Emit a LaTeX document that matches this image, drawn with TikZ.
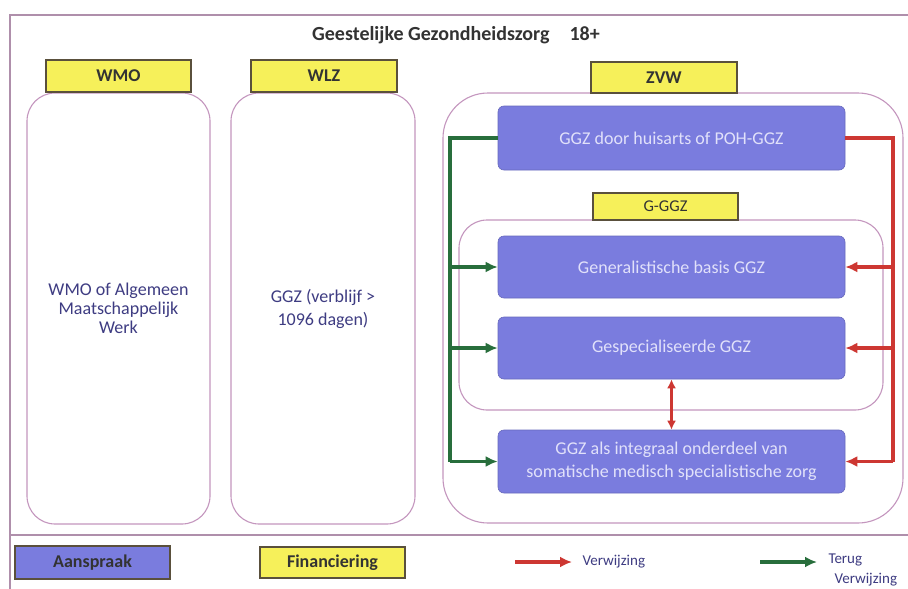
\documentclass[tikz,border=0pt]{standalone}
\usepackage{fontspec}
\setmainfont{Carlito}
\usetikzlibrary{arrows.meta}
\definecolor{boxpurple}{RGB}{122,124,222}
\definecolor{labyellow}{RGB}{246,240,90}
\definecolor{labborder}{RGB}{90,80,60}
\definecolor{framecol}{RGB}{196,150,190}
\definecolor{txtblue}{RGB}{62,60,130}
\definecolor{lighttxt}{RGB}{225,225,250}
\definecolor{redline}{RGB}{205,55,50}
\definecolor{greenline}{RGB}{40,110,60}
\begin{document}
\begin{tikzpicture}[x=1pt,y=-1pt,
  lab/.style={draw=labborder,line width=1.4pt,fill=labyellow,inner sep=0pt,font=\bfseries\fontsize{18}{20}\selectfont,text=black!80},
  cont/.style={draw=framecol,line width=1.1pt,rounded corners=28pt,fill=white},
  aan/.style={fill=boxpurple,draw=boxpurple!85!black,line width=0.6pt,rounded corners=6pt,inner sep=0pt,text=lighttxt,font=\fontsize{18}{23}\selectfont,align=center},
  red/.style={draw=redline,line width=3.4pt},
  grn/.style={draw=greenline,line width=3.4pt},
  tip/.style={-{Latex[length=12pt,width=11pt]}},
  legtxt/.style={anchor=west,font=\fontsize{15}{17}\selectfont,text=txtblue}
]
\useasboundingbox (0,0) rectangle (908,589);
\fill[white] (0,0) rectangle (908,589);
% frame
\draw[framecol!70!gray,line width=1.1pt] (10,589) -- (10,15) -- (908,15);
\draw[framecol!70!gray,line width=1.1pt] (10,535) -- (908,535);
\node[font=\bfseries\fontsize{20}{22}\selectfont,text=black!80] (title) at (456,35) {Geestelijke Gezondheidszorg\quad 18+};
% WMO
\draw[cont] (27,93) rectangle (210,524) node[pos=0.5,align=center,text=txtblue,font=\fontsize{18}{19}\selectfont] (wmotxt) {WMO of Algemeen\\Maatschappelijk\\Werk};
\node[lab,minimum width=145pt,minimum height=32pt] (wmo) at (118.5,76) {WMO};
% WLZ
\draw[cont] (231,93) rectangle (415,524) node[pos=0.5,align=center,text=txtblue,font=\fontsize{18}{23}\selectfont] (wlztxt) {GGZ (verblijf >\\1096 dagen)};
\node[lab,minimum width=146pt,minimum height=32pt] (wlz) at (324,76) {WLZ};
% ZVW
\draw[cont,rounded corners=45pt] (443,93) rectangle (903,523);
\node[lab,minimum width=146pt,minimum height=31pt] (zvw) at (664,77.5) {ZVW};
\draw[cont,rounded corners=28pt] (459,220) rectangle (883,410);
\node[lab,font=\fontsize{16.5}{18}\selectfont,minimum width=145pt,minimum height=27pt] (ggglab) at (665.5,206.5) {G-GGZ};
% aanspraak boxes
\node[aan,minimum width=347pt,minimum height=64pt] (huis) at (671.5,138) {GGZ door huisarts of POH-GGZ};
\node[aan,minimum width=347pt,minimum height=62pt] (gen) at (671.5,267) {Generalistische basis GGZ};
\node[aan,minimum width=347pt,minimum height=62pt] (spec) at (671.5,348) {Gespecialiseerde GGZ};
\node[aan,minimum width=347pt,minimum height=63pt] (som) at (671.5,461.5) {GGZ als integraal onderdeel van\\somatische medisch specialistische zorg};
% connectors
\coordinate (gx) at (450,0);
\coordinate (rx) at (893,0);
\draw[grn] (huis.west) -- (huis.west -| gx) -- (som.west -| gx);
\draw[grn,tip] (gen.west -| gx) -- (gen.west);
\draw[grn,tip] (spec.west -| gx) -- (spec.west);
\draw[grn,tip] (som.west -| gx) -- (som.west);
\draw[red] (huis.east) -- (huis.east -| rx) -- (som.east -| rx);
\draw[red,tip] (gen.east -| rx) -- (gen.east);
\draw[red,tip] (spec.east -| rx) -- (spec.east);
\draw[red,tip] (som.east -| rx) -- (som.east);
\draw[red,line width=2.8pt,{Latex[length=9pt,width=9pt]}-{Latex[length=9pt,width=9pt]}] (spec.south) -- (som.north);
% legend
\node[fill=boxpurple,draw=labborder,line width=1.4pt,minimum width=155pt,minimum height=33pt,inner sep=0pt,font=\bfseries\fontsize{18}{20}\selectfont,text=black!80] (leg1) at (92.5,562.5) {Aanspraak};
\node[lab,minimum width=145pt,minimum height=31pt] (leg2) at (332.5,562.5) {Financiering};
\coordinate (r1) at (515,562);
\coordinate (r2) at (572,562);
\draw[red,tip] (r1) -- (r2);
\node[legtxt] (leg3) at (579,562) {Verwijzing};
\coordinate (g1) at (760,562);
\coordinate (g2) at (817,562);
\draw[grn,tip] (g1) -- (g2);
\node[legtxt] (leg4) at (825,560) {Terug};
\node[legtxt] (leg5) at (831,580) {Verwijzing};
\end{tikzpicture}
\end{document}
